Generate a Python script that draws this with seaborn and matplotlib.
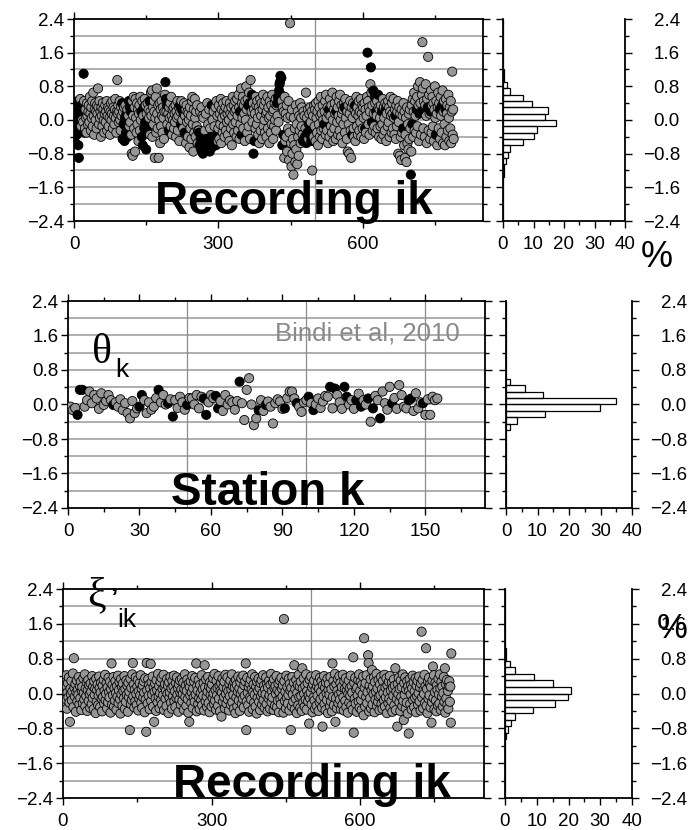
import numpy as np
import pandas as pd
import matplotlib
matplotlib.use("Agg")
import matplotlib.pyplot as plt
import seaborn as sns
from matplotlib.ticker import MultipleLocator, FixedLocator, FuncFormatter

# ---------------- data (values in hundredths of a log unit) ----------------
# Panel 1: recording residuals (index 0..789)
rec_y = [
 -45,-20,15,-55,30,-10,-35,5,45,-60,-90,-25,20,50,10,-15,35,0,25,-5,
 110,45,-30,-20,25,5,-30,40,10,-10,20,35,-5,55,15,-25,30,5,45,-15,
 65,10,-35,25,40,0,20,-20,35,15,75,30,-10,45,5,20,-40,30,10,-15,
 40,25,0,-30,15,35,-5,20,45,-25,10,30,-15,25,5,-35,20,40,0,15,
 45,-20,30,10,-10,25,50,5,-30,20,95,15,35,-5,20,45,0,-25,30,10,
 40,-45,20,-10,30,-50,5,35,-30,15,-20,25,-40,10,45,-15,30,-5,20,-35,
 -80,45,-85,10,55,-20,30,-75,50,5,-30,40,-10,25,-50,15,35,-25,55,0,
 20,-40,45,-60,10,30,-20,50,-5,35,-70,15,-30,40,-15,25,5,45,-35,20,
 65,10,70,-40,30,-10,45,20,-90,5,55,-30,75,15,-20,35,-90,0,40,-55,
 25,-15,45,10,-30,30,5,-45,20,60,90,50,20,35,-10,45,15,-25,30,5,
 40,-15,55,10,-35,25,0,30,-20,15,-5,35,-40,20,5,45,-25,10,30,-50,
 35,20,-10,45,25,0,30,-20,15,40,-30,10,25,-55,35,-5,20,-40,15,0,
 -65,30,-20,10,-45,45,55,-10,-75,25,-30,50,5,-40,20,-15,35,-55,-25,-25,
 -30,-60,20,-45,-70,30,-50,10,-80,5,-40,-65,-25,-55,15,-45,-70,40,-50,-10,
 -60,25,-75,-20,-50,-40,35,-65,0,-45,20,-55,-15,-40,30,-60,45,-35,10,-50,
 -20,35,-45,15,-10,50,-55,25,5,-30,40,-15,20,-40,10,30,-25,45,-5,15,
 -35,25,0,-50,40,15,-20,30,-60,10,55,-10,35,-30,20,45,-5,25,-40,50,
 10,-25,60,30,-45,20,-10,75,-35,40,5,55,-20,35,15,-50,45,0,80,25,
 -30,50,35,-15,65,40,-45,95,30,20,60,-5,40,-80,25,-50,15,-20,55,35,
 -10,45,5,-35,30,-55,20,50,-25,10,40,-45,25,60,-15,35,0,-30,45,15,
 -40,20,55,-20,30,5,-55,45,10,-30,35,-10,60,20,-45,25,-15,40,0,50,
 -25,35,40,10,55,-5,70,85,90,105,60,100,45,-60,30,-35,20,-90,55,-50,
 15,-40,35,-75,5,-20,45,-95,-30,230,10,-55,-110,25,-80,-45,-130,5,-60,-20,
 -100,35,-70,-10,-105,20,-40,-85,10,-25,40,-55,5,-15,30,-35,-50,20,-45,10,
 -40,-20,65,-55,5,-30,25,-45,-10,15,-35,30,-5,-50,20,-120,-25,10,-40,35,
 -15,25,-50,40,5,-30,20,-60,45,-10,30,-40,10,55,-25,15,-45,35,0,-20,
 -10,20,45,-35,60,5,-25,30,-55,15,25,-40,50,10,-15,35,-30,65,0,-50,
 25,-20,40,15,-45,20,55,-5,30,-35,10,45,-25,60,0,-40,35,15,-55,25,
 -10,40,30,-30,50,5,25,-45,20,-75,35,-10,-80,15,45,-25,-90,30,-35,5,
 40,-20,-40,25,35,-50,15,55,-15,30,-35,10,45,-25,20,-5,50,-40,15,35,
 -20,30,5,-45,40,-20,25,-30,10,55,160,45,-10,30,-35,20,85,125,65,-5,
 35,-25,70,15,-15,55,40,-30,20,10,45,-20,60,30,-40,25,5,-15,35,-45,
 20,-10,50,-35,30,5,-25,40,25,-50,15,35,-15,45,-5,30,-40,20,55,10,
 -30,40,15,-20,50,5,-35,25,10,-45,35,-15,20,45,-80,-5,30,-85,15,-40,
 -95,25,-30,10,-20,40,-60,20,-90,-35,5,-100,30,-55,-10,-70,15,-45,25,-20,
 -130,-75,35,-10,50,-40,20,65,-25,45,10,-30,25,55,-15,80,35,-50,15,90,
 40,-35,20,60,185,75,-20,45,25,-40,35,85,10,-55,50,30,150,-25,60,15,
 -45,20,70,-30,35,55,-15,40,-50,25,80,5,-35,45,15,-60,30,65,-20,40,
 25,-45,55,10,-30,35,70,-55,20,45,-10,-60,25,50,-40,15,35,-25,60,5,
 -50,30,-20,45,-55,20,115,-35,25,-45,
]
rec_black = [
 0,1,2,3,4,5,6,7,8,9,10,11,12,14,16,18,20,22,
 100,101,103,105,106,108,109,110,112,114,116,118,
 140,141,143,145,146,148,150,152,154,157,
 190,191,193,195,197,220,222,224,226,228,230,
 258,260,261,263,264,266,268,270,271,273,275,276,278,280,282,284,285,286,287,289,291,293,295,297,
 345,348,362,365,368,370,373,375,
 422,424,426,427,428,429,430,431,433,435,
 476,478,480,483,485,488,490,493,496,
 520,530,545,562,566,578,584,
 605,610,617,619,622,625,628,632,640,648,
 668,684,700,703,712,718,722,728,735,741,752,760,765,772,
]

# Panel 2: station terms (station 1..155)
sta_y = [
 -5,-13,-8,-24,34,34,-5,10,30,3, 22,14,-10,26,-1,8,22,10,-1,5,
 -5,12,-13,3,-20,-32,8,-20,-9,-5, 22,10,-20,5,-12,-5,15,34,5,22,
 0,3,12,-28,10,-8,18,5,-12,-1, 15,14,0,22,-9,18,14,-24,5,22,
 15,20,-9,8,-15,22,0,10,5,-12, 8,53,3,-36,34,61,0,-48,-32,-13,
 10,-15,-1,7,-5,-44,3,12,7,-10, -9,15,30,30,14,3,-5,-17,5,10,
 18,3,-13,0,14,-8,7,20,18,41, -9,37,22,5,-10,41,18,0,10,-10,
 10,25,-5,10,0,14,-40,-9,20,10, -32,30,3,-12,41,3,15,-10,45,22,
 -5,-9,10,14,-15,26,-9,5,3,-24, 12,-24,18,10,14,
]
sta_black = [4,5,6,19,30,31,38,42,44,50,57,58,62,63,72,80,83,91,96,101,
             103,110,112,116,117,121,123,126,128,131,136,143,144,149]

# Panel 3: residuals after removing station terms (index 0..784)
wes_y = [
 8,-27,14,33,-4,19,-13,42,-35,2,24,-9,37,-21,-65,11,-2,29,-16,5,
 46,-31,81,13,-7,22,-42,3,30,-18,9,-3,38,-25,17,-11,27,-38,6,15,
 -22,35,1,-14,44,-29,12,-6,26,-40,7,31,-17,19,-1,-33,23,4,-24,40,
 -10,16,-36,28,-3,11,-45,34,-19,8,21,-27,-5,39,13,-31,2,25,-12,-41,
 18,-8,32,-23,6,43,-15,-1,24,-34,14,-20,36,3,-9,27,-44,10,69,-26,
 20,-4,38,-30,12,-16,29,1,-37,17,-7,41,-22,8,26,-13,-46,33,-2,15,
 -28,23,6,-11,40,-35,10,-19,30,-3,18,-42,25,-8,4,-84,34,-24,13,-15,
 44,70,-6,21,-32,9,-18,37,-1,-26,16,31,-39,5,-12,24,-4,42,-21,11,
 -33,19,-9,28,2,-43,35,-14,-88,70,7,-23,33,-5,20,-36,12,68,-17,26,
 -2,39,-30,14,-65,4,23,-11,-40,31,8,-20,45,-7,17,-34,1,27,-15,36,
 -25,10,-4,43,-38,15,22,-12,6,-29,33,-1,18,-45,26,-9,3,38,-21,12,
 -35,29,-6,16,41,-18,5,-31,24,-10,37,-3,13,-42,21,-14,30,2,-26,9,
 34,-17,-1,25,-37,11,44,-8,19,-28,6,32,-13,-44,23,-65,15,-4,28,-22,
 3,40,-33,12,-9,27,-19,36,-2,69,-41,17,7,-24,31,-11,-36,20,1,-15,
 42,-27,10,-5,24,-39,65,14,-18,33,-7,-31,4,38,-22,16,-43,26,-3,11,
 -30,21,-10,35,0,-24,45,-16,8,-37,29,-4,13,-28,40,-12,18,-41,6,24,
 -53,2,34,-19,15,-8,27,-34,43,-1,-23,11,37,-14,5,-39,22,-6,30,-26,
 9,44,-20,17,-3,-35,25,13,-45,31,-9,20,-29,4,39,-16,12,-40,26,-1,
 35,-24,7,-12,41,-32,19,-5,28,69,-84,-18,36,2,-27,15,-42,23,-8,32,
 -14,10,44,-36,3,21,-21,-3,38,-30,16,-46,27,-10,6,34,-19,13,-38,24,
 -6,31,-26,1,42,-15,18,-33,9,-2,37,-24,22,-41,14,-11,29,-4,-35,20,
 45,-20,5,-9,26,-38,33,12,-28,17,-1,40,-31,8,-16,23,-43,3,30,-13,
 -25,36,11,-7,19,-44,171,28,-17,4,-34,41,-10,15,-23,-3,34,-39,22,7,
 -84,13,-29,38,-2,-19,25,65,-36,10,-12,31,-45,1,20,-27,43,-8,16,-33,
 27,-6,-40,58,12,-21,35,-1,-30,18,-14,44,-37,6,24,-18,-4,-69,32,-11,
 2,39,-25,14,-43,21,-9,30,-16,-35,9,42,-28,17,-5,26,-40,11,-20,36,
 -13,4,28,-32,-76,19,-7,40,-24,13,-38,25,1,-15,34,-45,8,22,-3,-29,
 38,-18,10,-41,69,-8,29,-27,16,45,-65,-11,21,-34,6,33,-22,-2,40,-14,
 24,-36,3,15,-26,43,-9,-39,28,11,-17,35,-31,7,19,-44,-1,30,-21,12,
 -5,41,-28,17,2,-37,83,-90,25,-12,36,-23,9,-42,14,-4,31,-19,44,-33,
 6,27,-15,-38,20,-2,39,-50,127,13,-30,24,-8,42,-22,3,88,70,-41,18,
 -11,33,-34,8,54,-25,16,-1,37,-43,26,-14,4,45,-29,12,-19,31,-7,-38,
 21,-4,38,-24,10,-35,29,1,-16,43,-30,14,-9,35,-45,19,2,-22,27,-12,
 40,-33,7,-18,25,-42,13,-5,32,-27,18,58,-38,4,-13,-76,22,-1,36,-20,
 11,-40,30,-8,15,-29,44,-17,-61,24,-3,37,-35,9,-21,28,-46,16,-92,6,
 33,-24,-2,20,-37,12,41,-15,26,-31,5,-10,35,-43,18,-6,29,-26,1,39,
 -18,14,-39,23,142,-9,31,-34,8,-1,43,-22,17,104,-28,10,-45,27,-12,36,
 -4,21,-32,15,-67,-20,30,62,-10,42,-36,3,25,-16,-41,19,8,-27,34,-2,
 -23,44,12,-38,27,-7,16,-30,1,38,-19,58,-44,22,-11,31,-26,6,-35,17,
 28,-19,16,-67,92,
]

# Histograms (bin centres, bins 0.15 wide) and percentages
rec_hist_c = [1.125,0.975,0.825,0.675,0.525,0.375,0.225,0.075,-0.075,-0.225,-0.375,-0.525,-0.675,-0.825,-0.975,-1.125,-1.275]
rec_hist_p = [0.3,0.3,1.3,2.4,6.4,9.5,14.6,13.9,17.3,11.1,10.3,6.4,2.4,1.5,1.1,0.4,0.3]
sta_hist_c = [0.525,0.375,0.225,0.075,-0.075,-0.225,-0.375,-0.525]
sta_hist_p = [1.3,5.9,11.6,35.0,29.8,12.4,3.4,1.3]
wes_hist_c = [0.975,0.825,0.675,0.525,0.375,0.225,0.075,-0.075,-0.225,-0.375,-0.525,-0.675,-0.825,-0.975]
wes_hist_p = [0.3,0.3,1.6,3.2,9.0,15.0,20.7,19.7,15.8,8.7,3.2,1.8,0.8,0.3]

y_ticks = [-2.4, -1.6, -0.8, 0.0, 0.8, 1.6, 2.4]

# ---------------- styling ----------------
sns.set_theme(style="white")
plt.rcParams["font.family"] = ["Liberation Sans", "DejaVu Sans"]
plt.rcParams["axes.unicode_minus"] = True
for k in ("text.color", "axes.labelcolor", "xtick.color", "ytick.color",
          "xtick.labelcolor", "ytick.labelcolor", "axes.edgecolor"):
    plt.rcParams[k] = "black"

W, H = 688, 830
fig = plt.figure(figsize=(W / 100, H / 100), dpi=100)

def box(l, r, t, b):
    return [l / W, 1 - b / H, (r - l) / W, (b - t) / H]

GRAY = "#969696"
FS = 13.5

def fmt(v, p):
    s = f"{v:.1f}"
    if s == "-0.0":
        s = "0.0"
    return s.replace("-", "\u2212")

def style_scatter(ax, xmax, xmajor, xminor, vgrid):
    ax.set_xlim(0, xmax)
    ax.set_ylim(-2.4, 2.4)
    ax.set_xlabel("")
    ax.set_ylabel("")
    ax.xaxis.set_major_locator(MultipleLocator(xmajor))
    ax.xaxis.set_minor_locator(MultipleLocator(xminor))
    ax.yaxis.set_major_locator(FixedLocator(y_ticks))
    ax.yaxis.set_minor_locator(MultipleLocator(0.4))
    ax.yaxis.set_major_formatter(FuncFormatter(fmt))
    ax.tick_params(which="both", direction="out", top=True, right=True,
                   bottom=True, left=True, labeltop=False, labelright=False,
                   color="black", width=1.0, labelcolor="black")
    ax.tick_params(which="major", length=5, labelsize=FS)
    ax.tick_params(axis="x", which="major", pad=6)
    ax.tick_params(axis="y", which="major", pad=2)
    ax.tick_params(which="minor", length=3)
    for s in ax.spines.values():
        s.set_visible(True)
        s.set_color("black")
        s.set_linewidth(1.3)
    ax.set_axisbelow(True)
    for yv in np.arange(-2.0, 2.01, 0.4):
        ax.axhline(yv, color="#a8a8a8", lw=1.3, zorder=0)
    for xv in vgrid:
        ax.axvline(xv, color="#8c8c8c", lw=0.9, zorder=0)

def style_hist(ax):
    ax.set_xlim(0, 40)
    ax.set_ylim(-2.4, 2.4)
    ax.set_xlabel("")
    ax.set_ylabel("")
    ax.xaxis.set_major_locator(MultipleLocator(10))
    ax.xaxis.set_minor_locator(MultipleLocator(5))
    ax.yaxis.set_major_locator(FixedLocator(y_ticks))
    ax.yaxis.set_minor_locator(MultipleLocator(0.4))
    ax.yaxis.set_major_formatter(FuncFormatter(fmt))
    ax.spines["top"].set_visible(False)
    for k in ("left", "right", "bottom"):
        ax.spines[k].set_visible(True)
        ax.spines[k].set_color("black")
        ax.spines[k].set_linewidth(1.3)
    ax.tick_params(which="both", direction="out", left=True, right=True,
                   bottom=True, top=False, labelleft=False, labelright=True,
                   color="black", width=1.0, labelcolor="black")
    ax.tick_params(axis="x", which="major", length=5, labelsize=FS, pad=6)
    ax.tick_params(axis="y", which="major", length=5, labelsize=FS, pad=34.5)
    ax.tick_params(which="minor", length=3)
    for t in ax.yaxis.get_major_ticks():
        t.label2.set_horizontalalignment("right")

def scatter(ax, yvals, black, start):
    n = len(yvals)
    xs = np.arange(start, start + n)
    cls = np.where(np.isin(xs, black), "b", "g")
    df = pd.DataFrame({"x": xs, "y": np.array(yvals) / 100.0, "c": cls})
    sns.scatterplot(data=df, x="x", y="y", hue="c",
                    palette={"g": GRAY, "b": "black"}, s=44,
                    edgecolor="black", linewidth=0.6, legend=False,
                    ax=ax, zorder=3)

def hist(ax, centers, pct):
    dfh = pd.DataFrame({"v": centers, "w": pct})
    sns.histplot(data=dfh, y="v", weights="w", binwidth=0.15,
                 binrange=(-2.4, 2.4), fill=False, element="bars",
                 color="black", linewidth=0.9, ax=ax)

# ---- Row 1 ----
ax1 = fig.add_axes(box(74, 483, 19, 221))
scatter(ax1, rec_y, rec_black, 0)
style_scatter(ax1, 850, 300, 150, [500])
ax1.text(0.537, 0.035, "Recording ik", transform=ax1.transAxes, ha="center",
         va="baseline", fontsize=33, fontweight="bold", color="black", zorder=6)
h1 = fig.add_axes(box(503, 625, 19, 221))
hist(h1, rec_hist_c, rec_hist_p)
style_hist(h1)
fig.text(641 / W, 1 - 267 / H, "%", fontsize=26, ha="left", va="baseline",
         color="black")

# ---- Row 2 ----
ax2 = fig.add_axes(box(68, 485, 301, 508))
scatter(ax2, sta_y, sta_black, 1)
style_scatter(ax2, 175, 30, 15, [50, 100, 150])
ax2.text(0.478, 0.015, "Station k", transform=ax2.transAxes, ha="center",
         va="baseline", fontsize=33, fontweight="bold", color="black", zorder=6)
ax2.text(0.94, 0.81, "Bindi et al, 2010", transform=ax2.transAxes, ha="right",
         va="baseline", fontsize=18.5, color="#8a8a8a", zorder=6)
ax2.text(0.058, 0.70, "\u03b8", transform=ax2.transAxes, ha="left",
         va="baseline", fontsize=30, color="black",
         family=["Liberation Serif", "DejaVu Serif"], zorder=6)
ax2.text(0.113, 0.633, "k", transform=ax2.transAxes, ha="left",
         va="baseline", fontsize=19, color="black", zorder=6)
h2 = fig.add_axes(box(506, 632, 301, 508))
hist(h2, sta_hist_c, sta_hist_p)
style_hist(h2)

# ---- Row 3 ----
ax3 = fig.add_axes(box(63, 484, 589, 798))
scatter(ax3, wes_y, [], 0)
style_scatter(ax3, 850, 300, 150, [500])
ax3.text(0.59, 0.005, "Recording ik", transform=ax3.transAxes, ha="center",
         va="baseline", fontsize=33, fontweight="bold", color="black", zorder=6)
ax3.text(0.057, 0.919, "\u03be", transform=ax3.transAxes, ha="left",
         va="baseline", fontsize=30, color="black",
         family=["Liberation Serif", "DejaVu Serif"], zorder=6, clip_on=False)
ax3.text(0.112, 0.919, "\u2019", transform=ax3.transAxes, ha="left",
         va="baseline", fontsize=19, fontweight="bold", color="black",
         zorder=6, clip_on=False)
ax3.text(0.128, 0.818, "ik", transform=ax3.transAxes, ha="left",
         va="baseline", fontsize=19, color="black", zorder=6)
h3 = fig.add_axes(box(505, 632, 589, 798))
hist(h3, wes_hist_c, wes_hist_p)
style_hist(h3)
fig.text(657 / W, 1 - 638 / H, "%", fontsize=25, ha="left", va="baseline",
         color="black")

fig.savefig("out.png", dpi=100, facecolor="white")
